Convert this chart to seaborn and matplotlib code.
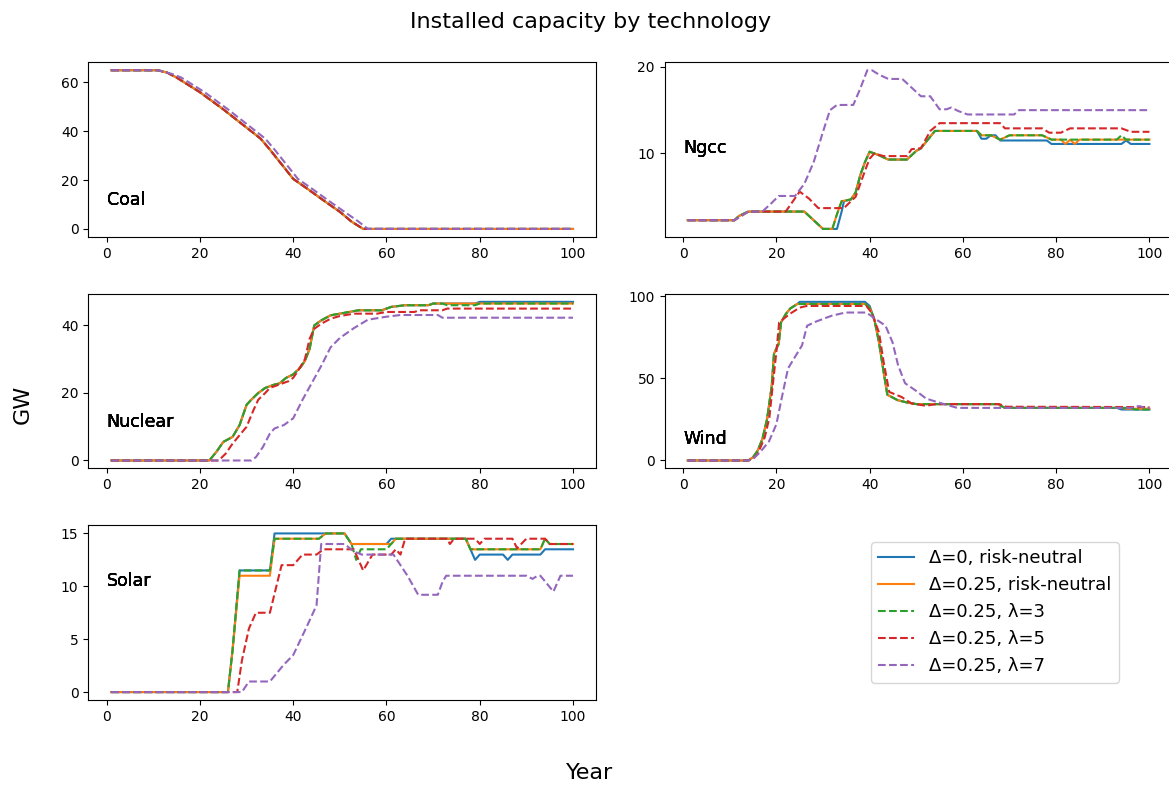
import pandas as pd
import matplotlib.pyplot as plt
import seaborn as sns
from matplotlib.ticker import MaxNLocator

# --- scenarios (legend order = draw order) ---
scenarios = ['Δ=0, risk-neutral', 'Δ=0.25, risk-neutral', 'Δ=0.25, λ=3', 'Δ=0.25, λ=5', 'Δ=0.25, λ=7']
techs = ['Coal', 'Ngcc', 'Nuclear', 'Wind', 'Solar']

# --- installed capacity (GW), (year, value) at the points where the curve changes ---
coal_d0 = [(1, 65), (11, 65), (13, 64), (15, 62), (20, 56), (25, 49), (30, 41.5), (33, 37), (35, 32.5),
           (40, 20.5), (43, 16.5), (47, 11), (50, 7), (52.5, 3), (55, 0), (100, 0)]
coal_d25 = coal_d0
coal_l3 = coal_d0
coal_l5 = coal_d0
coal_l7 = [(1, 65), (11, 65), (14, 63.5), (16, 62), (21, 56), (26, 49), (31, 41.5), (34, 37), (36, 32.5),
           (41, 20.5), (44, 16.5), (48, 11), (51, 7), (54, 3), (56, 0), (100, 0)]

ngcc_d0 = [(1, 2.3), (11, 2.3), (12, 2.8), (14, 3.3), (26, 3.3), (28, 2.3), (30, 1.3), (33, 1.3), (34, 3.3),
           (34.5, 4.5), (36, 4.7), (37, 5.5), (38, 7.5), (39, 9), (40, 10.2), (42, 9.8), (44, 9.3), (48, 9.3),
           (50, 10.3), (51, 10.6), (54, 12.6), (63, 12.6), (64, 11.7), (65, 11.7), (66, 12.1), (67, 12.1),
           (68, 11.5), (78, 11.5), (79, 11.1), (94, 11.1), (95, 11.5), (96, 11.1), (100, 11.1)]
ngcc_d25 = [(1, 2.3), (11, 2.3), (12, 2.8), (14, 3.3), (26, 3.3), (28, 2.3), (30, 1.3), (32, 1.3), (33, 3),
            (34, 4.5), (36, 4.7), (37, 5.5), (38, 7.5), (39, 9), (40, 10.2), (42, 9.8), (44, 9.3), (48, 9.3),
            (50, 10.3), (51, 10.6), (54, 12.6), (63, 12.6), (64, 12.1), (66, 12.1), (68, 11.6), (70, 12.1),
            (77, 12.1), (79, 11.6), (81, 11.6), (82, 11.1), (83, 11.6), (84, 11.1), (85, 11.6), (100, 11.6)]
ngcc_l3 = [(1, 2.3), (11, 2.3), (12, 2.8), (14, 3.3), (26, 3.3), (28, 2.3), (30, 1.3), (32, 1.3), (33, 3),
           (34, 4.5), (36, 4.7), (37, 5.5), (38, 7.5), (39, 9), (40, 10.2), (42, 9.8), (44, 9.3), (48, 9.3),
           (50, 10.3), (51, 10.6), (54, 12.6), (63, 12.6), (64, 12.1), (66, 12.1), (68, 11.6), (70, 12.1),
           (77, 12.1), (79, 11.6), (93, 11.6), (94, 12.1), (95, 11.6), (100, 11.6)]
ngcc_l5 = [(1, 2.3), (11, 2.3), (14, 3.3), (22, 3.3), (25, 5.6), (27, 4.8), (29, 3.7), (34.5, 3.7), (36, 4.5),
           (37, 5), (38, 6.5), (39, 8), (40, 9.4), (41, 10), (43, 9.7), (48, 9.7), (49, 10.5), (51, 10.6),
           (53, 12.6), (55, 13.5), (68, 13.5), (69, 12.9), (77, 12.9), (78.5, 12.4), (81, 12.4), (83, 12.9),
           (94, 12.9), (96, 12.5), (100, 12.5)]
ngcc_l7 = [(1, 2.3), (11, 2.3), (14, 3.3), (17, 3.3), (19, 4.3), (20.5, 5.1), (24, 5.1), (26, 6.5), (28, 9),
           (30, 12.5), (31.5, 15), (33, 15.6), (36.5, 15.6), (38, 17.5), (39.5, 19.6), (40.5, 19.6), (42, 19.1),
           (44, 18.6), (47, 18.6), (48, 18.1), (50, 17.1), (51, 16.6), (53, 16.6), (55, 15.1), (56.5, 15.1),
           (57.5, 15.3), (59, 14.9), (61, 14.5), (71, 14.5), (72, 15.0), (100, 15.0)]

nuclear_d0 = [(1, 0), (22, 0), (23.5, 2.5), (25, 5.5), (27, 7), (28.5, 10.5), (30, 16.5), (31, 18), (32.5, 20),
              (34, 21.5), (36, 22.5), (37, 22.8), (38.5, 24.5), (40, 25.5), (41.5, 27.5), (42.5, 29.5), (43.5, 33),
              (44.5, 40), (46, 41.5), (48, 43), (50, 43.5), (52, 44), (54, 44.5), (59, 44.5), (61, 45.5), (64, 46),
              (69, 46), (70, 46.5), (79, 46.5), (80, 47), (100, 47)]
nuclear_d25 = [(1, 0), (22, 0), (23.5, 2.5), (25, 5.5), (27, 7), (28.5, 10.5), (30, 16.5), (31, 18), (32.5, 20),
               (34, 21.5), (36, 22.5), (37, 22.8), (38.5, 24.5), (40, 25.5), (41.5, 27.5), (42.5, 29.5), (43.5, 33),
               (44.5, 40), (46, 41.5), (48, 43), (50, 43.5), (52, 44), (54, 44.5), (59, 44.5), (61, 45.5), (64, 46),
               (69, 46), (70, 46.5), (100, 46.5)]
nuclear_l3 = [(1, 0), (22, 0), (23.5, 2.5), (25, 5.5), (27, 7), (28.5, 10.5), (30, 16.5), (31, 18), (32.5, 20),
              (34, 21.5), (36, 22.5), (37, 22.8), (38.5, 24.5), (40, 25.5), (41.5, 27.5), (42.5, 29.5), (43.5, 33),
              (44.5, 40), (46, 41.5), (48, 43), (50, 43.5), (52, 44), (54, 44.5), (59, 44.5), (61, 45.5), (64, 46),
              (69, 46), (70, 46.5), (72, 46.5), (73, 46), (79, 46), (80, 46.5), (100, 46.5)]
nuclear_l5 = [(1, 0), (24, 0), (25.5, 2), (27, 5), (28.5, 7.5), (30, 10), (31.5, 15), (32.5, 18), (34, 20),
              (35, 21.5), (37, 22.5), (39, 23.5), (40, 24.5), (41, 26.5), (42.5, 30), (43.5, 36), (44.5, 39),
              (46, 40.5), (48, 42), (50, 42.8), (53, 43.5), (58, 43.5), (60, 44), (66, 44), (67, 44.5), (72, 44.5),
              (73, 45), (100, 45)]
nuclear_l7 = [(1, 0), (31, 0), (32, 1), (33.5, 4), (35, 8), (36, 9.5), (38, 10.5), (40, 12.5), (42, 18),
              (44, 23), (46, 28), (48, 33.5), (50, 36.3), (53, 39.2), (56, 41.7), (60, 42.6), (63, 43.1),
              (71, 43.1), (72, 42.3), (100, 42.3)]

wind_d0 = [(1, 0), (14, 0), (15, 2), (16, 6), (17, 13), (18, 25), (19, 45), (19.5, 65), (20.5, 71), (21, 84),
           (22, 89), (23, 92.5), (24.5, 95.2), (25, 96.5), (39, 96.5), (40, 94), (41, 86), (42, 72), (43, 54),
           (43.8, 40), (46, 36.7), (48, 35.3), (50, 34.3), (67.5, 34.3), (69, 32), (93, 32), (94, 31), (100, 31)]
wind_d25 = [(1, 0), (14, 0), (15, 2), (16, 6), (17, 13), (18, 25), (19, 45), (19.5, 65), (20.5, 71), (21, 84),
            (22, 89), (23, 92.5), (24.5, 95.2), (39, 95.2), (40, 93), (41, 86), (42, 72), (43, 54),
            (43.8, 40), (46, 36.7), (48, 35.3), (50, 34.3), (67.5, 34.3), (69, 32), (94, 32), (95, 31.5), (100, 31.5)]
wind_l3 = [(1, 0), (14, 0), (15, 2), (16, 6), (17, 13), (18, 25), (19, 45), (19.5, 65), (20.5, 71), (21, 84),
           (22, 89), (23, 92.5), (24.5, 95.2), (39, 95.2), (40, 93), (41, 86), (42, 72), (43, 54),
           (43.8, 40), (46, 36.7), (48, 35.3), (50, 34.3), (67.5, 34.3), (69, 32), (96, 32), (97, 31), (100, 31)]
wind_l5 = [(1, 0), (14, 0), (15, 1), (16, 4), (17.5, 14), (18.5, 26), (19.2, 45), (20, 66), (20.6, 84), (22.8, 89),
           (25, 93), (26.5, 94), (39.3, 94), (40.4, 90), (42, 78), (43, 60), (44.2, 41.7), (46.8, 38.7),
           (49, 34.7), (52, 33.3), (54.3, 34.3), (67.8, 34.3), (69.3, 32.7), (100, 32.5)]
wind_l7 = [(1, 0), (14, 0), (15, 1), (16.5, 5), (18.4, 11.5), (20, 22), (21.3, 40), (22.5, 56), (24, 63),
           (25.5, 70), (26.6, 82), (28.5, 84.5), (31.8, 88), (34.8, 90), (39.3, 90), (40.8, 87), (43.4, 82),
           (44.9, 72), (46.1, 58), (47.6, 47), (49.8, 42.7), (52.1, 37.7), (54.3, 35.7), (58.8, 32), (96, 32),
           (97, 33), (98, 33), (99, 32), (100, 32)]

solar_d0 = [(1, 0), (26, 0), (27, 4), (28.5, 11.5), (35, 11.5), (36, 15), (51, 15), (52.5, 14), (60, 14),
            (61, 14.5), (77, 14.5), (78, 13.5), (79, 12.5), (80, 13), (85, 13), (86, 12.5), (87, 13), (93, 13),
            (94, 13.5), (100, 13.5)]
solar_d25 = [(1, 0), (26, 0), (27, 4), (28.5, 11), (35, 11), (36, 14.5), (45.5, 14.5), (47, 15), (51, 15),
             (52.5, 14), (61, 14), (62, 14.5), (77, 14.5), (78, 13.5), (93, 13.5), (94, 14.5), (95, 14), (100, 14)]
solar_l3 = [(1, 0), (26, 0), (27, 4), (28.5, 11.5), (35, 11.5), (36, 14.5), (45.5, 14.5), (47, 15), (51, 15),
            (52.5, 14), (53.5, 12.5), (54.5, 13.5), (60, 13.5), (61, 14), (62, 14.5), (77, 14.5), (78, 13.5),
            (93, 13.5), (94, 14.5), (95, 14), (100, 14)]
solar_l5 = [(1, 0), (28, 0), (29, 3), (30.5, 6), (32, 7.5), (35, 7.5), (37.5, 12), (40, 12), (42, 13), (45, 13),
            (46.5, 13.5), (53, 13.5), (55, 11.5), (57, 13), (61, 13), (62, 13.5), (63, 13), (64, 14.5), (73, 14.5),
            (73.6, 14), (74.5, 14.5), (79, 14.5), (80, 14), (81, 14.5), (87, 14.5), (88, 13.6), (90, 14.5),
            (94, 14.5), (95, 14), (100, 14)]
solar_l7 = [(1, 0), (29, 0), (30.5, 1), (35, 1), (38, 2.6), (40, 3.5), (42.7, 6), (45, 8.2), (46, 14), (51, 14),
            (53, 13.3), (54.7, 13), (61.5, 13), (64.5, 11), (66.8, 9.2), (71, 9.2), (72, 10.4), (72.8, 11),
            (90, 11), (91.3, 10.7), (92.4, 11), (93, 11), (95.8, 9.5), (97.3, 11), (100, 11)]

series = {
    'Coal': [coal_d0, coal_d25, coal_l3, coal_l5, coal_l7],
    'Ngcc': [ngcc_d0, ngcc_d25, ngcc_l3, ngcc_l5, ngcc_l7],
    'Nuclear': [nuclear_d0, nuclear_d25, nuclear_l3, nuclear_l5, nuclear_l7],
    'Wind': [wind_d0, wind_d25, wind_l3, wind_l5, wind_l7],
    'Solar': [solar_d0, solar_d25, solar_l3, solar_l5, solar_l7],
}

rows = []
for tech in techs:
    for scen, pts in zip(scenarios, series[tech]):
        for yr, val in pts:
            rows.append({'tech': tech, 'scenario': scen, 'year': yr, 'GW': val})
df = pd.DataFrame(rows)

palette = dict(zip(scenarios, sns.color_palette('tab10', 5)))
dashes = {scenarios[0]: '', scenarios[1]: '', scenarios[2]: (3.7, 1.6),
          scenarios[3]: (3.7, 1.6), scenarios[4]: (3.7, 1.6)}

fig, axes = plt.subplots(3, 2, figsize=(11.69, 7.86), dpi=100)
fig.subplots_adjust(left=0.0755, right=1.003, top=0.9207, bottom=0.1094, wspace=0.135, hspace=0.327)
axes = axes.flatten()

for ax, tech in zip(axes, techs):
    sns.lineplot(data=df[df['tech'] == tech], x='year', y='GW', hue='scenario', style='scenario',
                 hue_order=scenarios, style_order=scenarios, palette=palette, dashes=dashes,
                 estimator=None, linewidth=1.5, legend=False, ax=ax)
    # label is written once per scenario in the original loop -> slightly heavier look
    for _ in scenarios:
        ax.text(0, 10, tech, fontsize=12.5)
    ax.set(xlabel='', ylabel='')
    ax.yaxis.set_major_locator(MaxNLocator(nbins=4, steps=[1, 2, 2.5, 5, 10]))
    ax.set_xticks([0, 20, 40, 60, 80, 100])

axes[5].axis('off')
handles = axes[0].get_lines()[:5]
fig.legend(handles, scenarios, loc='center', bbox_to_anchor=(0.851, 0.221), fontsize=13)

fig.suptitle('Installed capacity by technology', fontsize=16, x=0.505, y=0.964, va='baseline')
fig.supxlabel('Year', fontsize=16, x=0.504, y=0.0165, va='center')
fig.supylabel('GW', fontsize=16, x=0.011, y=0.485, va='center')

plt.savefig('out.png', dpi=100)
plt.close()
